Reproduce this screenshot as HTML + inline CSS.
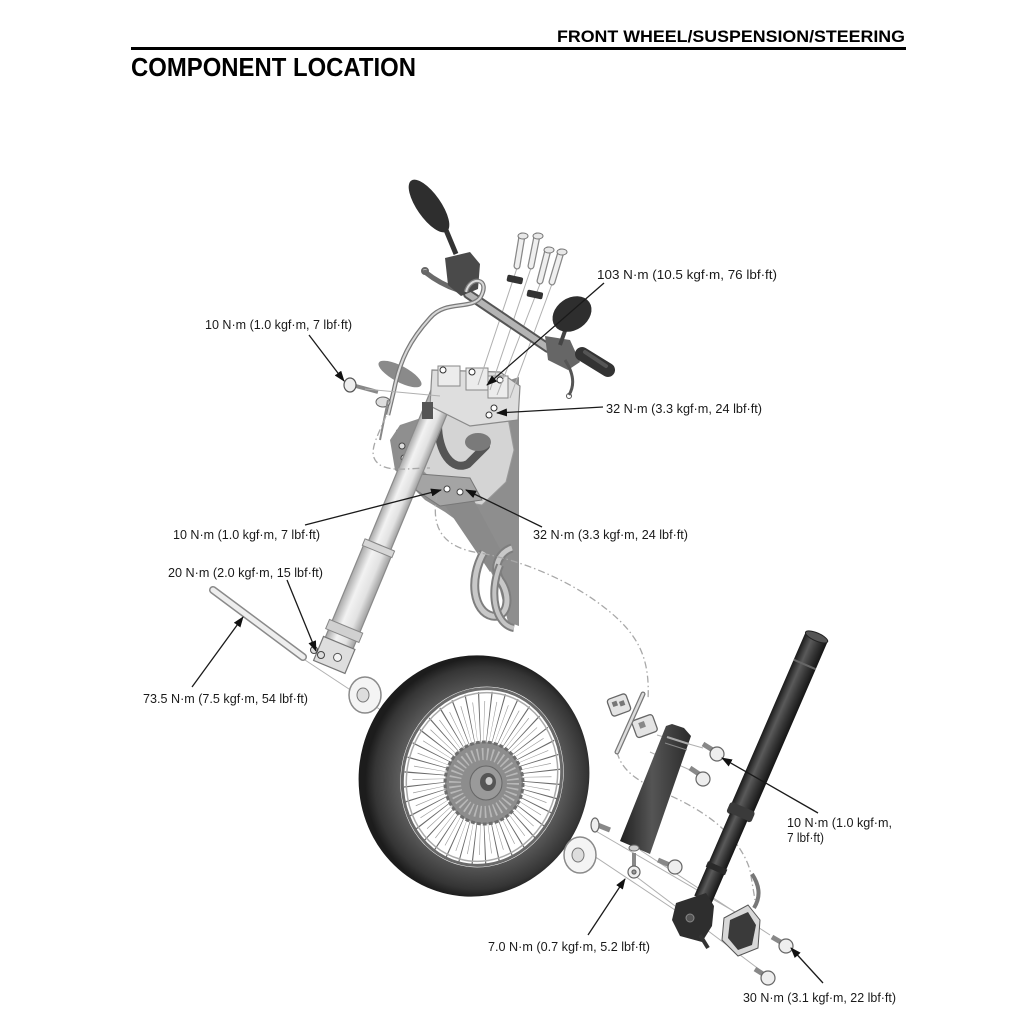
<!DOCTYPE html>
<html><head><meta charset="utf-8">
<style>
html,body{margin:0;padding:0;background:#fff;}
svg{display:block;}
text{font-family:"Liberation Sans",Arial,sans-serif;}
.lb{font-size:12.8px;fill:#1a1a1a;}
.ar{stroke:#1a1a1a;stroke-width:1.3;fill:none;}
.gl{stroke:#b0b0b0;stroke-width:1;fill:none;}
.dc{stroke:#a8a8a8;stroke-width:1.3;fill:none;stroke-dasharray:7 3 1.5 3;}
</style></head><body>
<svg width="1024" height="1024" viewBox="0 0 1024 1024" xmlns="http://www.w3.org/2000/svg">
<defs>
<marker id="ah" markerWidth="11" markerHeight="8" refX="10" refY="4" orient="auto" markerUnits="userSpaceOnUse">
<path d="M0,0 L11,4 L0,8 z" fill="#111"/>
</marker>
<linearGradient id="lt" x1="0" y1="0" x2="1" y2="0">
<stop offset="0" stop-color="#a8a8a8"/><stop offset="0.35" stop-color="#f2f2f2"/><stop offset="0.7" stop-color="#e2e2e2"/><stop offset="1" stop-color="#a0a0a0"/>
</linearGradient>
<linearGradient id="dk" x1="0" y1="0" x2="1" y2="0">
<stop offset="0" stop-color="#1a1a1a"/><stop offset="0.35" stop-color="#5a5a5a"/><stop offset="0.65" stop-color="#383838"/><stop offset="1" stop-color="#151515"/>
</linearGradient>
<linearGradient id="fd" x1="0" y1="0" x2="1" y2="0">
<stop offset="0" stop-color="#202020"/><stop offset="0.45" stop-color="#555"/><stop offset="1" stop-color="#2a2a2a"/>
</linearGradient>
<radialGradient id="tg" cx="0.53" cy="0.5" r="0.5">
<stop offset="0" stop-color="#666"/><stop offset="0.7" stop-color="#5c5c5c"/><stop offset="0.8" stop-color="#4a4a4a"/><stop offset="0.92" stop-color="#353535"/><stop offset="1" stop-color="#1c1c1c"/>
</radialGradient>
</defs>

<!-- Header -->
<text x="557" y="42" font-weight="bold" font-size="17" textLength="348" lengthAdjust="spacingAndGlyphs">FRONT WHEEL/SUSPENSION/STEERING</text>
<rect x="131" y="47" width="775" height="3" fill="#000"/>
<text x="131" y="76" font-weight="bold" font-size="26" textLength="285" lengthAdjust="spacingAndGlyphs">COMPONENT LOCATION</text>

<!-- gray frame panel -->
<polygon points="498,384 519,377 519,626 508,622 500,590 485,560 470,530 445,512 425,500 395,470 390,440 400,425 430,415 450,400" fill="#8e8e8e"/>
<polygon points="430,398 505,402 514,450 506,482 482,505 452,500 422,470 416,432" fill="#d4d4d4" stroke="#9a9a9a" stroke-width="1"/>
<polygon points="440,498 470,493 506,560 490,572" fill="#8a8a8a"/>
<!-- exhaust loops -->
<path d="M484,552 C468,580 474,612 492,616 C508,619 512,596 500,580 C492,566 500,552 512,548" stroke="#7e7e7e" stroke-width="9" fill="none"/>
<path d="M484,552 C468,580 474,612 492,616 C508,619 512,596 500,580 C492,566 500,552 512,548" stroke="#c8c8c8" stroke-width="5" fill="none"/>
<path d="M500,565 C488,595 496,625 514,628" stroke="#7e7e7e" stroke-width="8" fill="none"/>
<path d="M500,565 C488,595 496,625 514,628" stroke="#c4c4c4" stroke-width="4" fill="none"/>

<!-- dark brake hose & reservoir -->
<path d="M438,424 C438,452 452,472 468,464 L486,446" stroke="#555" stroke-width="8" fill="none" stroke-linecap="round"/>
<ellipse cx="478" cy="442" rx="13" ry="9" fill="#7a7a7a"/>
<!-- lower bridge -->
<polygon points="420,474 470,478 482,500 440,506 416,490" fill="#a4a4a4" stroke="#777" stroke-width="1"/>
<circle cx="447" cy="489" r="3" fill="#fff" stroke="#444"/>
<circle cx="460" cy="492" r="3" fill="#fff" stroke="#444"/>
<!-- bracket left -->
<polygon points="396,430 420,420 428,445 410,470 398,462" fill="#8f8f8f"/>
<circle cx="402" cy="446" r="3" fill="#ddd" stroke="#444"/>
<circle cx="404" cy="458" r="3" fill="#ddd" stroke="#444"/>

<!-- Left fork -->
<g transform="translate(415,460) rotate(22.5)">
<rect x="-12" y="-78" width="24" height="180" fill="url(#lt)" stroke="#8a8a8a" stroke-width="1.2"/>
<rect x="-15" y="92" width="30" height="112" fill="url(#lt)" stroke="#8a8a8a" stroke-width="1.2"/>
<rect x="-16" y="92" width="32" height="7" fill="#d6d6d6" stroke="#888" stroke-width="1"/>
<rect x="-18" y="180" width="36" height="10" fill="#d0d0d0" stroke="#888" stroke-width="1"/>
<rect x="-17" y="198" width="34" height="26" fill="#dedede" stroke="#777" stroke-width="1.2"/>
<circle cx="4" cy="212" r="4" fill="#f4f4f4" stroke="#555"/>
</g>

<!-- top bridge and holders -->
<polygon points="432,370 500,372 520,386 518,420 470,426 430,406" fill="#dedede" stroke="#8a8a8a" stroke-width="1.2"/>
<rect x="438" y="366" width="22" height="20" fill="#ececec" stroke="#888"/>
<rect x="466" y="368" width="22" height="22" fill="#ececec" stroke="#888"/>
<rect x="488" y="376" width="20" height="22" fill="#ececec" stroke="#888"/>
<circle cx="443" cy="370" r="3" fill="#fff" stroke="#333"/>
<circle cx="472" cy="372" r="3" fill="#fff" stroke="#333"/>
<circle cx="500" cy="380" r="3" fill="#fff" stroke="#333"/>
<circle cx="494" cy="408" r="3" fill="#fff" stroke="#333"/>
<circle cx="489" cy="415" r="3" fill="#fff" stroke="#333"/>
<rect x="422" y="402" width="11" height="17" fill="#555"/>
<!-- headlight bracket leaf -->
<ellipse cx="400" cy="374" rx="24" ry="8" transform="rotate(28 400 374)" fill="#8a8a8a"/>

<!-- guide lines from bolts -->
<line class="gl" x1="517" y1="268" x2="478" y2="385"/>
<line class="gl" x1="531" y1="268" x2="490" y2="390"/>
<line class="gl" x1="540" y1="284" x2="497" y2="395"/>
<line class="gl" x1="552" y1="284" x2="510" y2="398"/>

<!-- handlebar -->
<path d="M468,294 L548,348" stroke="#555" stroke-width="10" stroke-linecap="round"/>
<path d="M468,294 L548,348" stroke="#b4b4b4" stroke-width="6" stroke-linecap="round"/>
<polygon points="545,336 570,340 580,362 568,370 548,360" fill="#666"/>
<line x1="582" y1="354" x2="608" y2="370" stroke="#333" stroke-width="14" stroke-linecap="round"/>
<line x1="585" y1="352" x2="606" y2="366" stroke="#555" stroke-width="4" stroke-linecap="round"/>
<!-- right mirror -->
<line x1="566" y1="328" x2="560" y2="345" stroke="#444" stroke-width="4"/>
<ellipse cx="572" cy="314" rx="21" ry="16" transform="rotate(-35 572 314)" fill="#2e2e2e"/>
<!-- right lever -->
<path d="M565,360 Q578,380 569,395" stroke="#555" stroke-width="3" fill="none"/>
<circle cx="569" cy="396" r="2.5" fill="none" stroke="#555"/>
<!-- left mirror -->
<line x1="446" y1="230" x2="456" y2="254" stroke="#333" stroke-width="5"/>
<ellipse cx="429" cy="206" rx="31" ry="12" transform="rotate(55 429 206)" fill="#2e2e2e"/>
<!-- left switch / lever -->
<path d="M425,272 Q440,284 458,290" stroke="#6a6a6a" stroke-width="5" fill="none" stroke-linecap="round"/>
<circle cx="425" cy="271" r="3" fill="none" stroke="#666" stroke-width="2"/>
<polygon points="445,258 470,252 480,264 478,289 461,296 448,285" fill="#4a4a4a"/>
<!-- clutch cable -->
<path d="M466,292 C470,275 492,278 480,298 C470,310 445,300 430,318 C410,340 400,360 394,390 L388,415" stroke="#7a7a7a" stroke-width="4.5" fill="none"/>
<path d="M466,292 C470,275 492,278 480,298 C470,310 445,300 430,318 C410,340 400,360 394,390 L388,415" stroke="#d8d8d8" stroke-width="2" fill="none"/>

<!-- upper bolts -->
<g stroke-linecap="round">
<line x1="522" y1="236" x2="517" y2="266" stroke="#888" stroke-width="7"/>
<line x1="522" y1="236" x2="517" y2="266" stroke="#efefef" stroke-width="4.5"/>
<line x1="537" y1="236" x2="531" y2="266" stroke="#888" stroke-width="7"/>
<line x1="537" y1="236" x2="531" y2="266" stroke="#efefef" stroke-width="4.5"/>
<line x1="548" y1="250" x2="540" y2="281" stroke="#888" stroke-width="7"/>
<line x1="548" y1="250" x2="540" y2="281" stroke="#efefef" stroke-width="4.5"/>
<line x1="561" y1="252" x2="552" y2="282" stroke="#888" stroke-width="7"/>
<line x1="561" y1="252" x2="552" y2="282" stroke="#efefef" stroke-width="4.5"/>
</g>
<ellipse cx="523" cy="236" rx="5" ry="3" fill="#e8e8e8" stroke="#777"/>
<ellipse cx="538" cy="236" rx="5" ry="3" fill="#e8e8e8" stroke="#777"/>
<ellipse cx="549" cy="250" rx="5" ry="3" fill="#e8e8e8" stroke="#777"/>
<ellipse cx="562" cy="252" rx="5" ry="3" fill="#e8e8e8" stroke="#777"/>
<rect x="507" y="276" width="16" height="7" rx="2" fill="#333" transform="rotate(12 515 279)"/>
<rect x="527" y="291" width="16" height="7" rx="2" fill="#333" transform="rotate(12 535 294)"/>

<!-- left bolt & clamp -->
<line x1="352" y1="385" x2="378" y2="392" stroke="#888" stroke-width="4"/>
<ellipse cx="350" cy="385" rx="6" ry="7" fill="#eee" stroke="#555" stroke-width="1.2"/>
<line class="gl" x1="365" y1="389" x2="440" y2="396"/>
<ellipse cx="383" cy="402" rx="7" ry="5" fill="#ddd" stroke="#666"/>
<line x1="388" y1="400" x2="380" y2="440" stroke="#888" stroke-width="2"/>

<!-- dashed cables -->
<path class="dc" d="M386,416 C376,440 366,455 380,465 C392,472 410,468 430,468"/>
<path class="dc" d="M437,495 C430,530 445,548 480,553 C520,560 570,580 605,608 C640,635 650,660 648,700"/>
<path class="dc" d="M617,752 C622,772 640,782 662,792 C700,808 738,832 750,870 L755,900"/>

<!-- axle -->
<line x1="213" y1="590" x2="303" y2="657" stroke="#8a8a8a" stroke-width="8" stroke-linecap="round"/>
<line x1="213" y1="590" x2="303" y2="657" stroke="#eeeeee" stroke-width="5" stroke-linecap="round"/>
<circle cx="314" cy="650" r="3.5" fill="#ddd" stroke="#444"/>
<circle cx="321" cy="655" r="3.5" fill="#ddd" stroke="#444"/>

<!-- guide lines lower -->
<line class="gl" x1="305" y1="660" x2="402" y2="724"/>
<line class="gl" x1="528" y1="812" x2="705" y2="930"/>
<line class="gl" x1="594" y1="830" x2="735" y2="912"/>
<line class="gl" x1="640" y1="850" x2="770" y2="935"/>
<line class="gl" x1="634" y1="875" x2="760" y2="970"/>
<line class="gl" x1="657" y1="735" x2="703" y2="748"/>
<line class="gl" x1="650" y1="752" x2="690" y2="770"/>

<!-- left collar -->
<ellipse cx="365" cy="695" rx="16" ry="18" fill="#f4f4f4" stroke="#8a8a8a" stroke-width="1.5"/>
<ellipse cx="363" cy="695" rx="6" ry="7" fill="#ddd" stroke="#777"/>

<!-- wheel -->
<ellipse cx="474" cy="776" rx="115" ry="121" transform="rotate(15 474 776)" fill="url(#tg)"/>
<ellipse cx="482" cy="777" rx="81" ry="91" transform="rotate(15 482 777)" fill="#fff"/>
<g transform="translate(482,778) rotate(15) scale(0.89,1)">
<circle r="52.5" fill="none" stroke="#6a6a6a" stroke-width="69" stroke-dasharray="0.8 8.363"/>
<circle r="52.5" fill="none" stroke="#9a9a9a" stroke-width="50" stroke-dasharray="0.5 8.663" transform="rotate(5)"/>
</g>
<ellipse cx="482" cy="777" rx="79" ry="89" transform="rotate(15 482 777)" fill="none" stroke="#6a6a6a" stroke-width="3"/>
<ellipse cx="482" cy="777" rx="75" ry="85" transform="rotate(15 482 777)" fill="none" stroke="#aaa" stroke-width="1.5"/>
<!-- disc -->
<ellipse cx="484" cy="783" rx="39" ry="41" fill="#8d8d8d" stroke="#6e6e6e" stroke-width="3" stroke-dasharray="4 2"/>
<circle cx="484" cy="783" r="29" fill="none" stroke="#b8b8b8" stroke-width="12" stroke-dasharray="1.6 3.2"/>
<ellipse cx="486" cy="783" rx="16" ry="17" fill="#9a9a9a" stroke="#666"/>
<ellipse cx="488" cy="782" rx="8" ry="9" fill="#555"/>
<ellipse cx="489" cy="781" rx="3.5" ry="4" fill="#ccc"/>

<!-- right collar -->
<ellipse cx="580" cy="855" rx="16" ry="18" fill="#f4f4f4" stroke="#8a8a8a" stroke-width="1.5"/>
<ellipse cx="578" cy="855" rx="6" ry="7" fill="#ddd" stroke="#777"/>

<!-- pads & pin -->
<g transform="rotate(-20 619 705)"><rect x="609" y="696" width="20" height="18" rx="3" fill="#e4e4e4" stroke="#666" stroke-width="1.3"/><rect x="613" y="700" width="5" height="5" fill="#777"/><rect x="620" y="702" width="5" height="5" fill="#777"/></g>
<g transform="rotate(-20 645 727)"><rect x="634" y="717" width="22" height="18" rx="3" fill="#e4e4e4" stroke="#666" stroke-width="1.3"/><rect x="640" y="721" width="6" height="6" fill="#888"/></g>
<line x1="643" y1="694" x2="617" y2="752" stroke="#777" stroke-width="5" stroke-linecap="round"/>
<line x1="643" y1="694" x2="617" y2="752" stroke="#ddd" stroke-width="2.5" stroke-linecap="round"/>

<!-- fender -->
<polygon points="666,726 672,724 684,728 691,736 650,854 620,841" fill="url(#fd)"/>
<line x1="667" y1="737" x2="689" y2="744" stroke="#aaa" stroke-width="2"/>
<line x1="665" y1="743" x2="687" y2="750" stroke="#888" stroke-width="1"/>
<ellipse cx="634" cy="848" rx="5" ry="3" fill="#ccc" stroke="#666"/>

<!-- small bolts -->
<g stroke="#666" stroke-width="1.2">
<line x1="703" y1="744" x2="716" y2="752" stroke-width="5" stroke="#888"/><circle cx="717" cy="754" r="7" fill="#eee"/>
<line x1="690" y1="768" x2="702" y2="776" stroke-width="5" stroke="#888"/><circle cx="703" cy="779" r="7" fill="#eee"/>
<line x1="595" y1="824" x2="610" y2="830" stroke-width="5" stroke="#888"/><ellipse cx="595" cy="825" rx="4" ry="7" fill="#eee"/>
<line x1="658" y1="860" x2="672" y2="866" stroke-width="5" stroke="#888"/><circle cx="675" cy="867" r="7" fill="#eee"/>
<line x1="634" y1="853" x2="634" y2="868" stroke-width="4" stroke="#888"/><ellipse cx="634" cy="872" rx="6" ry="6" fill="#eee"/><circle cx="634" cy="872" r="2" fill="#999"/>
<line x1="772" y1="937" x2="784" y2="944" stroke-width="5" stroke="#888"/><circle cx="786" cy="946" r="7" fill="#eee"/>
<line x1="755" y1="969" x2="766" y2="976" stroke-width="5" stroke="#888"/><circle cx="768" cy="978" r="7" fill="#eee"/>
</g>

<!-- right fork -->
<g transform="translate(817,636) rotate(23.4)">
<rect x="-12" y="0" width="24" height="196" rx="2" fill="url(#dk)"/>
<ellipse cx="0" cy="1" rx="12" ry="4" fill="#555" stroke="#222"/>
<rect x="-12" y="30" width="24" height="2" fill="#666"/>
<rect x="-13.5" y="186" width="27" height="12" rx="3" fill="#3a3a3a"/>
<rect x="-9.5" y="197" width="19" height="90" fill="url(#dk)"/>
<rect x="-10.5" y="250" width="21" height="6" fill="#2a2a2a"/>
</g>
<!-- axle holder -->
<polygon points="676,903 706,893 714,906 712,926 702,942 680,936 672,920" fill="#2e2e2e"/>
<circle cx="690" cy="918" r="4" fill="#555" stroke="#888"/>
<line x1="700" y1="935" x2="708" y2="948" stroke="#333" stroke-width="4"/>
<!-- caliper -->
<polygon points="724,918 748,905 760,920 758,948 738,956 722,940" fill="#d8d8d8" stroke="#555" stroke-width="1"/>
<polygon points="730,920 748,912 756,925 752,945 738,950 728,938" fill="#3a3a3a"/>
<path d="M754,908 Q764,892 752,874" stroke="#777" stroke-width="4" fill="none"/>

<!-- arrows -->
<line class="ar" x1="309" y1="335" x2="344" y2="381" marker-end="url(#ah)"/>
<line class="ar" x1="604" y1="283" x2="487" y2="385" marker-end="url(#ah)"/>
<line class="ar" x1="603" y1="407" x2="497" y2="413" marker-end="url(#ah)"/>
<line class="ar" x1="305" y1="525" x2="441" y2="490" marker-end="url(#ah)"/>
<line class="ar" x1="542" y1="527" x2="466" y2="490" marker-end="url(#ah)"/>
<line class="ar" x1="287" y1="580" x2="316" y2="651" marker-end="url(#ah)"/>
<line class="ar" x1="192" y1="687" x2="243" y2="617" marker-end="url(#ah)"/>
<line class="ar" x1="818" y1="813" x2="722" y2="758" marker-end="url(#ah)"/>
<line class="ar" x1="588" y1="935" x2="625" y2="879" marker-end="url(#ah)"/>
<line class="ar" x1="823" y1="983" x2="791" y2="948" marker-end="url(#ah)"/>

<!-- labels -->
<text class="lb" x="205" y="329" textLength="147" lengthAdjust="spacingAndGlyphs">10 N·m (1.0 kgf·m, 7 lbf·ft)</text>
<text class="lb" x="597" y="279" textLength="180" lengthAdjust="spacingAndGlyphs">103 N·m (10.5 kgf·m, 76 lbf·ft)</text>
<text class="lb" x="606" y="413" textLength="156" lengthAdjust="spacingAndGlyphs">32 N·m (3.3 kgf·m, 24 lbf·ft)</text>
<text class="lb" x="173" y="539" textLength="147" lengthAdjust="spacingAndGlyphs">10 N·m (1.0 kgf·m, 7 lbf·ft)</text>
<text class="lb" x="533" y="539" textLength="155" lengthAdjust="spacingAndGlyphs">32 N·m (3.3 kgf·m, 24 lbf·ft)</text>
<text class="lb" x="168" y="577" textLength="155" lengthAdjust="spacingAndGlyphs">20 N·m (2.0 kgf·m, 15 lbf·ft)</text>
<text class="lb" x="143" y="703" textLength="165" lengthAdjust="spacingAndGlyphs">73.5 N·m (7.5 kgf·m, 54 lbf·ft)</text>
<text class="lb" x="787" y="827" textLength="105" lengthAdjust="spacingAndGlyphs">10 N·m (1.0 kgf·m,</text>
<text class="lb" x="787" y="842" textLength="37" lengthAdjust="spacingAndGlyphs">7 lbf·ft)</text>
<text class="lb" x="488" y="951" textLength="162" lengthAdjust="spacingAndGlyphs">7.0 N·m (0.7 kgf·m, 5.2 lbf·ft)</text>
<text class="lb" x="743" y="1002" textLength="153" lengthAdjust="spacingAndGlyphs">30 N·m (3.1 kgf·m, 22 lbf·ft)</text>
</svg>
</body></html>
